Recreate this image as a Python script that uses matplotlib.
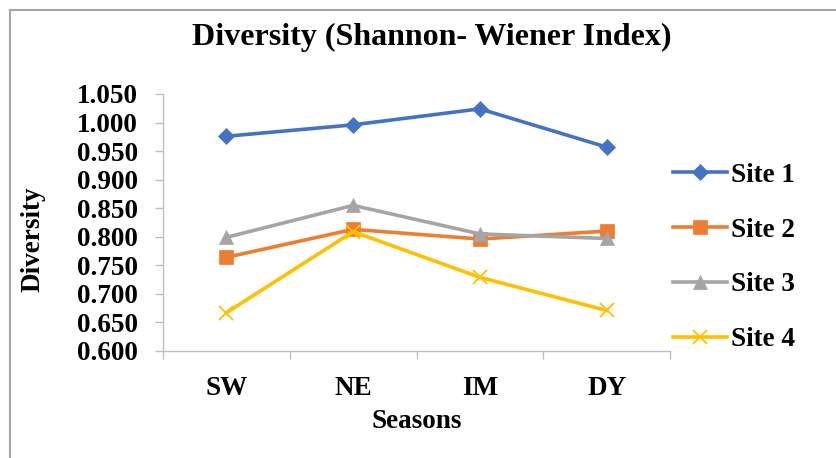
import matplotlib
matplotlib.use("Agg")
import matplotlib.pyplot as plt
from matplotlib.lines import Line2D

seasons = ["SW", "NE", "IM", "DY"]
site1 = [0.976, 0.996, 1.024, 0.957]
site2 = [0.764, 0.813, 0.796, 0.810]
site3 = [0.799, 0.855, 0.805, 0.797]
site4 = [0.667, 0.809, 0.729, 0.671]
site_names = ["Site 1", "Site 2", "Site 3", "Site 4"]
yticks = [0.600, 0.650, 0.700, 0.750, 0.800, 0.850, 0.900, 0.950, 1.000, 1.050]

plt.rcParams['font.family'] = ['Liberation Serif', 'DejaVu Serif']

W, H = 836, 458
fig = plt.figure(figsize=(W/100, H/100), dpi=100)
ax = fig.add_axes([163/W, 1-351/H, (670-163)/W, (351-94)/H])

colors = ["#4472C4", "#ED7D31", "#A5A5A5", "#FFC000"]
markers = ["D", "s", "^", "x"]
msizes = [8.5, 10, 10, 9.5]
x = list(range(len(seasons)))
for vals, c, m, ms, name in zip([site1, site2, site3, site4], colors, markers, msizes, site_names):
    ax.plot(x, vals, color=c, lw=2.6, marker=m, markersize=ms, markeredgewidth=1.3 if m == 'x' else 0.5,
            markeredgecolor=c, markerfacecolor=c, label=name)

FS = 19.5
ax.set_xlim(-0.5, 3.5)
ax.set_ylim(0.600, 1.050)
ax.set_yticks(yticks)
ax.set_yticklabels([f"{v:.3f}" for v in yticks], fontsize=FS, fontweight='bold')
ax.set_xticks(x)
ax.set_xticklabels(seasons, fontsize=FS, fontweight='bold')
ax.set_xticks([-0.5, 0.5, 1.5, 2.5, 3.5], minor=True)
ax.tick_params(axis='x', which='major', length=0, pad=18)
ax.tick_params(axis='x', which='minor', length=6, color='#BFBFBF', width=1)
ax.tick_params(axis='y', length=6, color='#BFBFBF', width=1, pad=12)
for s in ['top', 'right']:
    ax.spines[s].set_visible(False)
for s in ['left', 'bottom']:
    ax.spines[s].set_color('#BFBFBF')
    ax.spines[s].set_linewidth(1)

ax.set_xlabel("Seasons", fontsize=FS, fontweight='bold', labelpad=6)
fig.text(33/W, 1-239/H, "Diversity", rotation=90, ha='center', va='center',
         fontsize=FS, fontweight='bold')
fig.text(432/W, 1-37/H, "Diversity (Shannon- Wiener Index)", ha='center', va='center',
         fontsize=23, fontweight='bold')

leg = fig.legend(loc='upper left', bbox_to_anchor=(662/W, 1-152/H), frameon=False,
                 prop={'size': FS, 'weight': 'bold'}, handlelength=2.0, handletextpad=0.15,
                 labelspacing=1.1, borderaxespad=0)

fig.add_artist(Line2D([10/W, 1], [1-10/H, 1-10/H], transform=fig.transFigure, color='#A6A6A6', lw=1.5))
fig.add_artist(Line2D([10/W, 10/W], [0, 1-10/H], transform=fig.transFigure, color='#A6A6A6', lw=1.5))

fig.savefig("out.png", dpi=100)
